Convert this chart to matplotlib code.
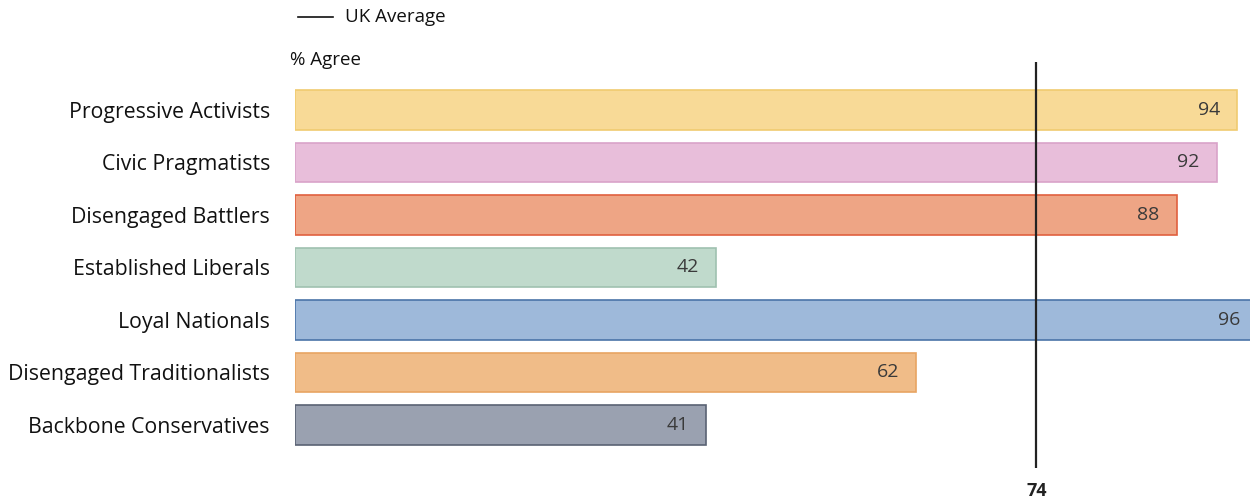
import numpy as np
import matplotlib.pyplot as plt

segments = ["Progressive Activists", "Civic Pragmatists", "Disengaged Battlers",
            "Established Liberals", "Loyal Nationals", "Disengaged Traditionalists",
            "Backbone Conservatives"]
agree = [94, 92, 88, 42, 96, 62, 41]
uk_avg = 74

fills = ["#F8DA97", "#E8BEDA", "#EEA585", "#C0DACC", "#9EB9DA", "#F0BC88", "#9AA1B0"]
edges = ["#F0CB70", "#D9A3C9", "#E0603F", "#9FC1B0", "#4A74A8", "#E8A462", "#5A6273"]

plt.rcParams['font.family'] = ['Open Sans', 'DejaVu Sans']

fig = plt.figure(figsize=(12.5, 5.01), dpi=100)
W, H = 1250, 501
# axes: x from 0 at px 295, ~10.02 px per point; y spans px 62..468
ax = fig.add_axes([295 / W, (H - 468) / H, 96 * 10.02 / W, 406 / H])

y = np.arange(len(segments))
ax.barh(y, agree, height=0.76, color=fills, edgecolor=edges, linewidth=1.2, zorder=2)
ax.set_xlim(0, 96)
ax.set_ylim(6.82, -0.914)

for yi, v in zip(y, agree):
    ax.text(v - 1.7, yi, str(v), ha='right', va='center', fontsize=14, color='#3a3a3a', zorder=3)

ax.axvline(uk_avg, color='#222222', linewidth=1.6, zorder=4)
ax.text(uk_avg, 7.25, str(uk_avg), ha='center', va='center', fontsize=13,
        fontweight='bold', color='#222222')

ax.set_yticks(y)
ax.set_yticklabels(segments, fontsize=15.3, color='#111111')
ax.tick_params(axis='y', length=0, pad=18)
ax.set_xticks([])
for s in ax.spines.values():
    s.set_visible(False)

fig.text(290 / W, 1 - 60 / H, "% Agree", ha='left', va='center', fontsize=13.5, color='#111111')
fig.add_artist(plt.Line2D([298 / W, 333 / W], [1 - 17 / H, 1 - 17 / H], color='#111111', linewidth=1.2))
fig.text(345 / W, 1 - 17 / H, "UK Average", ha='left', va='center', fontsize=13.5, color='#111111')

fig.savefig("out.png", dpi=100)
